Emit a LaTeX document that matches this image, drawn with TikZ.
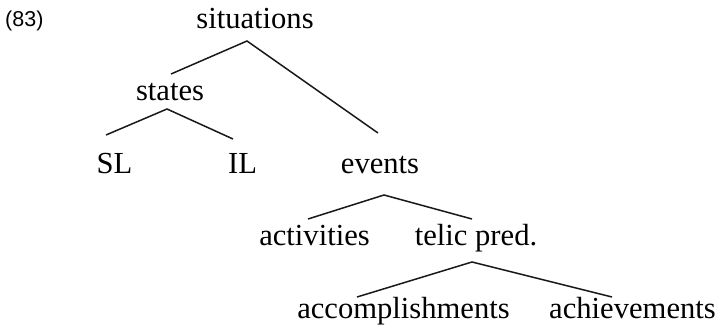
\documentclass[tikz,border=0pt]{standalone}
\usepackage{fontspec}
\setmainfont{Liberation Serif}
\newfontfamily\numfont{Liberation Sans}
\begin{document}
\begin{tikzpicture}[x=1pt,y=-1pt,
  lbl/.style={anchor=base,inner sep=0pt,font=\fontsize{30.6}{36}\selectfont},
  edge/.style={line width=1.5pt,black!90}]
\useasboundingbox (0,0) rectangle (720,324);
\node[anchor=base west,inner sep=0pt,font=\numfont\fontsize{21.5}{26}\selectfont] (num) at (5,27) {(83)};
\node[lbl] (situations) at (255,28) {situations};
\node[lbl] (states) at (170,100) {states};
\node[lbl] (SL) at (114.5,173) {SL};
\node[lbl] (IL) at (242.5,173) {IL};
\node[lbl] (events) at (380,173) {events};
\node[lbl] (activities) at (314.5,245) {activities};
\node[lbl] (telic) at (476,245) {telic pred.};
\node[lbl] (accomp) at (403.5,318) {accomplishments};
\node[lbl] (achiev) at (632.5,318) {achievements};
\draw[edge] ([shift={(1,-26)}]states.base) -- ([shift={(-8,13)}]situations.base) -- ([shift={(-2,-40)}]events.base);
\draw[edge] ([shift={(-8.5,-38)}]SL.base) -- ([shift={(-3,9)}]states.base) -- ([shift={(-9.5,-34)}]IL.base);
\draw[edge] ([shift={(-6.5,-26)}]activities.base) -- ([shift={(4,22)}]events.base) -- ([shift={(-4,-26)}]telic.base);
\draw[edge] ([shift={(-46.5,-21)}]accomp.base) -- ([shift={(-4,17)}]telic.base) -- ([shift={(-20.5,-21)}]achiev.base);
\end{tikzpicture}
\end{document}
